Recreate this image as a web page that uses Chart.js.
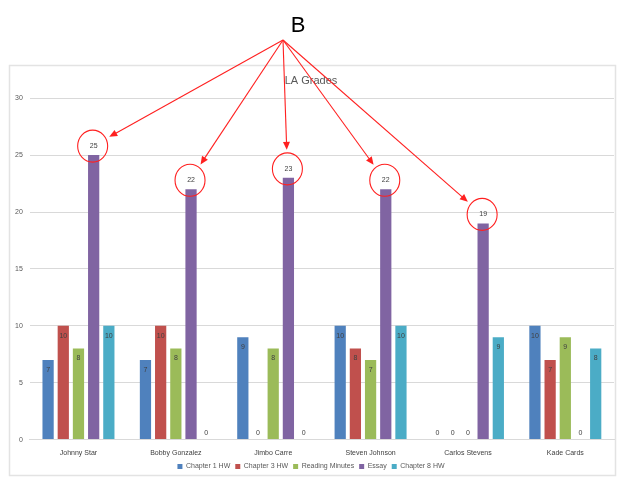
<!DOCTYPE html>
<html>
<head>
<meta charset="utf-8">
<script src="https://cdn.jsdelivr.net/npm/chart.js@4"></script>
<style>
  html, body { margin: 0; padding: 0; background: #fff; }
  #wrap { width: 624px; height: 484px; position: relative; }
</style>
</head>
<body>
<div id="wrap"><canvas id="gradesChart"></canvas></div>
<script>
const students = ["Johnny Star", "Bobby Gonzalez", "Jimbo Carre", "Steven Johnson", "Carlos Stevens", "Kade Cards"];
const chapter1 = [7, 7, 9, 10, 0, 10];
const chapter3 = [10, 10, 0, 8, 0, 7];
const readingMinutes = [8, 8, 8, 7, 0, 9];
const essay = [25, 22, 23, 22, 19, 0];
const chapter8 = [10, 0, 0, 10, 9, 8];
const yTicks = [0, 5, 10, 15, 20, 25, 30];
// which essay bars got circled in the picture
const circled = [true, true, true, true, true, false];

const colors = ["#4F81BD", "#C0504D", "#9BBB59", "#8064A2", "#4BACC6"];
const ESSAY = 3;

// frame around the chart, like the pasted Excel chart
const framePlugin = {
    id: "frame",
    beforeDraw(chart) {
        const c = chart.ctx;
        c.save();
        c.strokeStyle = "#e3e3e3";
        c.lineWidth = 1.5;
        c.strokeRect(9.5, 65.5, 606, 410);
        c.restore();
    }
};

// value labels on the bars
const valueLabels = {
    id: "valueLabels",
    afterDatasetsDraw(chart) {
        const c = chart.ctx;
        c.save();
        c.font = "7px 'Liberation Sans', Arial, sans-serif";
        c.fillStyle = "#404040";
        c.textAlign = "center";
        c.textBaseline = "middle";
        chart.data.datasets.forEach((ds, di) => {
            chart.getDatasetMeta(di).data.forEach((bar, i) => {
                const v = ds.data[i];
                let y;
                if (v === 0) y = bar.y - 7;
                else if (di === ESSAY) y = bar.y - 9;
                else y = bar.y + 10;
                c.fillText(String(v), bar.x, y);
            });
        });
        c.restore();
    }
};

// the red "B" callout with arrows to circled essay values
const callout = {
    id: "callout",
    afterDraw(chart) {
        const c = chart.ctx;
        const ox = 283, oy = 40;
        c.save();
        c.fillStyle = "#000";
        c.font = "22px 'Liberation Sans', Arial, sans-serif";
        c.textAlign = "center";
        c.textBaseline = "middle";
        c.fillText("B", 298, 26);

        c.strokeStyle = "#ff2020";
        c.fillStyle = "#ff2020";
        c.lineWidth = 1.1;
        chart.getDatasetMeta(ESSAY).data.forEach((bar, i) => {
            if (!circled[i]) return;
            const cx = bar.x - 1, cy = bar.y - 9;
            c.beginPath();
            c.ellipse(cx, cy, 15, 16, 0, 0, Math.PI * 2);
            c.stroke();

            const dx = cx - ox, dy = cy - oy;
            const len = Math.hypot(dx, dy);
            const ux = dx / len, uy = dy / len;
            const ex = cx - ux * 19, ey = cy - uy * 19;
            c.beginPath();
            c.moveTo(ox, oy);
            c.lineTo(ex - ux * 6, ey - uy * 6);
            c.stroke();
            // arrow head
            const hl = 8, hw = 3.5;
            c.beginPath();
            c.moveTo(ex, ey);
            c.lineTo(ex - ux * hl - uy * hw, ey - uy * hl + ux * hw);
            c.lineTo(ex - ux * hl + uy * hw, ey - uy * hl - ux * hw);
            c.closePath();
            c.fill();
        });
        c.restore();
    }
};

const ctx = document.getElementById("gradesChart").getContext("2d");
new Chart(ctx, {
    type: "bar",
    data: {
        labels: students,
        datasets: [
            { label: "Chapter 1 HW", data: chapter1, backgroundColor: colors[0] },
            { label: "Chapter 3 HW", data: chapter3, backgroundColor: colors[1] },
            { label: "Reading Minutes", data: readingMinutes, backgroundColor: colors[2] },
            { label: "Essay", data: essay, backgroundColor: colors[3] },
            { label: "Chapter 8 HW", data: chapter8, backgroundColor: colors[4] }
        ]
    },
    options: {
        responsive: true,
        maintainAspectRatio: false,
        animation: false,
        layout: { padding: { top: 66, left: 8, right: 10, bottom: 4 } },
        datasets: {
            bar: { categoryPercentage: 0.78, barPercentage: 0.74 }
        },
        plugins: {
            title: {
                display: true,
                text: "LA Grades",
                color: "#595959",
                font: { family: "'Liberation Sans', Arial, sans-serif", size: 11, weight: "normal" },
                padding: { top: 8, bottom: 11 }
            },
            legend: {
                position: "bottom",
                labels: {
                    boxWidth: 5,
                    boxHeight: 5,
                    padding: 5,
                    color: "#595959",
                    font: { family: "'Liberation Sans', Arial, sans-serif", size: 7 }
                }
            },
            tooltip: { enabled: false }
        },
        scales: {
            y: {
                min: 0,
                max: 30,
                afterBuildTicks: (axis) => { axis.ticks = yTicks.map(v => ({ value: v })); },
                grid: { color: "#d9d9d9", drawTicks: false },
                border: { display: false },
                ticks: {
                    padding: 7,
                    color: "#595959",
                    font: { family: "'Liberation Sans', Arial, sans-serif", size: 7 }
                }
            },
            x: {
                grid: { display: false },
                border: { color: "#d9d9d9" },
                ticks: {
                    color: "#404040",
                    padding: 1,
                    font: { family: "'Liberation Sans', Arial, sans-serif", size: 7 }
                }
            }
        }
    },
    plugins: [framePlugin, valueLabels, callout]
});
</script>
</body>
</html>
